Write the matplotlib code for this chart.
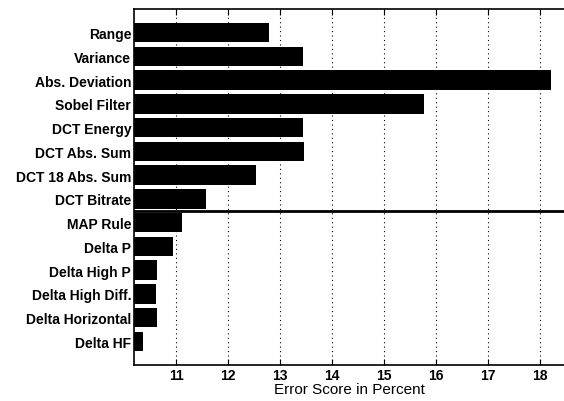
import matplotlib.pyplot as plt
import numpy as np

# Error scores per feature
features = ["Range", "Variance", "Abs. Deviation", "Sobel Filter", "DCT Energy",
            "DCT Abs. Sum", "DCT 18 Abs. Sum", "DCT Bitrate", "MAP Rule", "Delta P",
            "Delta High P", "Delta High Diff.", "Delta Horizontal", "Delta HF"]
scores = [12.79, 13.44, 18.21, 15.76, 13.44, 13.45, 12.53, 11.58,
          11.12, 10.94, 10.64, 10.62, 10.63, 10.37]
xticks = [11, 12, 13, 14, 15, 16, 17, 18]

plt.rcParams['font.family'] = ['Liberation Sans', 'DejaVu Sans']

fig = plt.figure(figsize=(5.64, 4.02), dpi=100)
ax = fig.add_axes([0.2376, 0.0896, 0.7624, 0.8856])

ypos = np.arange(len(features), 0, -1)
ax.barh(ypos, scores, height=0.82, color="black", left=0)

# separator between DCT Bitrate and MAP Rule
ax.axhline(6.5, color="black", lw=2)

ax.set_xlim(10.19, 18.46)
ax.set_ylim(0, len(features) + 1)
ax.set_xticks(xticks)
ax.set_xticklabels([str(t) for t in xticks], fontsize=10, fontweight="bold")
ax.set_yticks(ypos)
ax.set_yticklabels(features, fontsize=10, fontweight="bold")
ax.tick_params(axis="y", length=0, pad=2)
ax.tick_params(axis="x", direction="in", top=True, length=4, pad=2)
ax.grid(axis="x", linestyle=(0, (1, 3)), color="black", lw=0.8)
ax.set_axisbelow(True)
ax.spines["right"].set_visible(False)
for s in ["left", "top", "bottom"]:
    ax.spines[s].set_linewidth(1.2)

ax.set_xlabel("Error Score in Percent", fontsize=11, labelpad=0)

plt.savefig("out.png", dpi=100)
